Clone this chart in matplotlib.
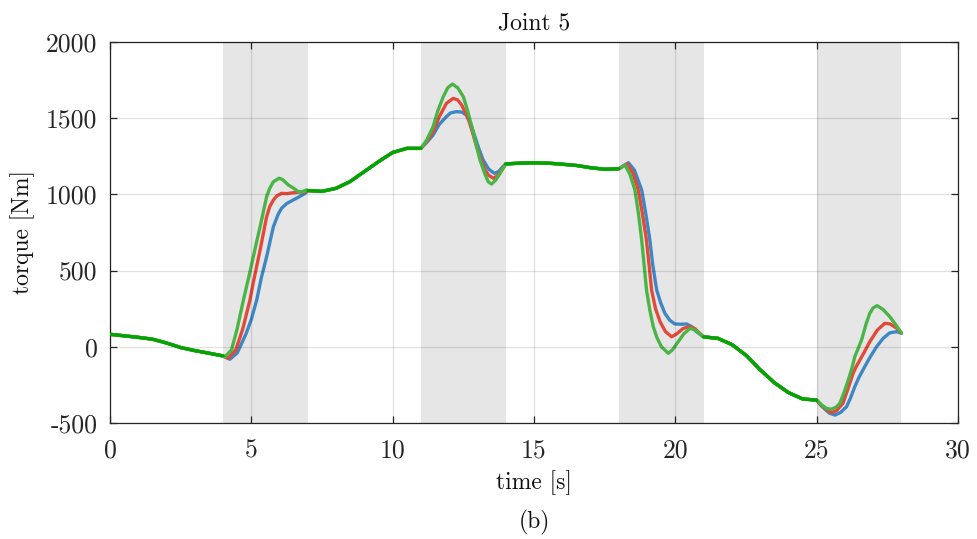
import numpy as np
import matplotlib.pyplot as plt

plt.rcParams['font.family'] = 'cmr10'
plt.rcParams['mathtext.fontset'] = 'cm'
plt.rcParams['axes.unicode_minus'] = False
plt.rcParams['axes.formatter.use_mathtext'] = False

# shaded intervals [s]
shade_spans = [(4, 7), (11, 14), (18, 21), (25, 28)]

# common part of the torque (all three curves coincide here)
common_t = [0, 0.5, 1, 1.5, 2, 2.5, 3, 3.5, 4, np.nan,
            7, 7.5, 8, 8.5, 9, 9.5, 10, 10.5, 11, np.nan,
            14, 14.5, 15, 15.5, 16, 16.5, 17, 17.5, 18, np.nan,
            21, 21.5, 22, 22.5, 23, 23.5, 24, 24.5, 25]
common_v = [82, 72, 62, 50, 25, -5, -25, -42, -60, np.nan,
            1025, 1020, 1040, 1085, 1150, 1215, 1275, 1302, 1302, np.nan,
            1200, 1205, 1207, 1205, 1198, 1190, 1175, 1165, 1168, np.nan,
            65, 56, 15, -55, -150, -235, -300, -342, -350]

# parts inside the shaded intervals, per controller
blue_t = [4.24, 4.5, 4.8, 5.0, 5.19, 5.35, 5.54, 5.78, 5.95, 6.07, 6.25, 6.48, 6.7, 6.9,
          11.2, 11.43, 11.65, 11.9, 12.05, 12.26, 12.45, 12.6, 12.75, 12.91, 13.05,
          13.2, 13.4, 13.6, 13.75, 13.9,
          18.34, 18.55, 18.81, 18.95, 19.1, 19.2, 19.34, 19.48, 19.63, 19.8, 19.98,
          20.2, 20.4, 20.6, 20.75,
          25.15, 25.3, 25.45, 25.65, 25.85, 26.06, 26.2, 26.35, 26.5, 26.7, 26.9,
          27.12, 27.35, 27.59, 27.83, 28.0]
blue_v = [-82, -40, 80, 180, 307, 450, 591, 788, 870, 909, 940, 963, 985, 1007,
          1340, 1389, 1460, 1510, 1535, 1543, 1540, 1521, 1470, 1379, 1300,
          1226, 1165, 1138, 1150, 1182,
          1208, 1160, 1029, 880, 701, 540, 373, 290, 220, 175, 150,
          148, 150, 130, 99,
          -385, -410, -435, -448, -430, -393, -335, -262, -200, -131, -65,
          0, 55, 92, 99, 90]

red_t = [4.18, 4.45, 4.7, 4.95, 5.1, 5.31, 5.54, 5.65, 5.78, 5.9, 6.07, 6.25, 6.48, 6.9,
         11.2, 11.43, 11.65, 11.9, 12.14, 12.3, 12.44, 12.67, 12.82, 12.97, 13.12,
         13.27, 13.4, 13.56, 13.7, 13.85,
         18.3, 18.5, 18.69, 18.83, 18.98, 19.07, 19.16, 19.3, 19.46, 19.65, 19.87,
         20.05, 20.28, 20.52, 20.7, 20.8,
         25.15, 25.3, 25.52, 25.7, 25.93, 26.1, 26.29, 26.4, 26.53, 26.7, 26.88,
         27.15, 27.41, 27.6, 27.85, 28.0]
red_v = [-75, -20, 120, 307, 450, 635, 853, 920, 963, 990, 1007, 1005, 1011, 1018,
         1345, 1411, 1510, 1597, 1630, 1620, 1587, 1500, 1410, 1313, 1230,
         1160, 1125, 1106, 1120, 1160,
         1200, 1140, 1029, 880, 701, 540, 373, 250, 165, 100, 66,
         85, 121, 132, 118, 100,
         -380, -405, -432, -420, -371, -280, -174, -130, -87, -30, 33,
         110, 154, 150, 120, 90]

green_t = [4.07, 4.3, 4.5, 4.72, 4.9, 5.07, 5.2, 5.31, 5.54, 5.65, 5.78, 5.98, 6.1,
           6.31, 6.5, 6.66, 6.8, 6.95,
           11.2, 11.43, 11.6, 11.79, 11.95, 12.11, 12.3, 12.5, 12.65, 12.8, 12.95,
           13.09, 13.25, 13.38, 13.5, 13.65, 13.8, 13.92,
           18.22, 18.4, 18.57, 18.7, 18.81, 18.9, 18.98, 19.1, 19.22, 19.35, 19.51,
           19.75, 19.9, 20.1, 20.3, 20.52, 20.7, 20.8,
           25.2, 25.35, 25.52, 25.7, 25.82, 25.97, 26.12, 26.25, 26.35, 26.59, 26.75,
           26.88, 27.0, 27.14, 27.35, 27.59, 27.8, 28.0]
green_v = [-65, -20, 120, 307, 450, 591, 700, 788, 985, 1040, 1083, 1106, 1098,
           1062, 1040, 1018, 1018, 1029,
           1355, 1444, 1550, 1641, 1700, 1724, 1700, 1641, 1550, 1444, 1330,
           1226, 1140, 1083, 1068, 1095, 1138, 1175,
           1193, 1130, 1029, 870, 701, 530, 373, 240, 132, 60, 0,
           -43, -20, 33, 85, 121, 110, 95,
           -385, -404, -410, -395, -371, -300, -218, -140, -65, 45, 150,
           220, 255, 270, 245, 197, 145, 90]


def full_series(t_part, v_part):
    '''merge the common part with one controller's shaded parts'''
    t = np.concatenate([np.array(common_t, float), np.array(t_part, float)])
    v = np.concatenate([np.array(common_v, float), np.array(v_part, float)])
    keep = ~np.isnan(t)
    t, v = t[keep], v[keep]
    order = np.argsort(t, kind='stable')
    return t[order], v[order]


fig = plt.figure(figsize=(9.78, 5.39), dpi=100)
ax = fig.add_axes([0.1125, 0.2152, 0.867, 0.7069])

for a, b in shade_spans:
    ax.axvspan(a, b, color='#e6e6e6', lw=0, zorder=0.2)

for (tp, vp), col in [((blue_t, blue_v), '#3d87c4'),
                      ((red_t, red_v), '#e2493b'),
                      ((green_t, green_v), '#4ab547')]:
    t, v = full_series(tp, vp)
    ax.plot(t, v, color=col, lw=2.4, zorder=2,
            solid_joinstyle='round', solid_capstyle='round')

ax.plot(common_t, common_v, color='#00a600', lw=2.4, zorder=3,
        solid_joinstyle='round', solid_capstyle='round')

ax.set_xlim(0, 30)
ax.set_ylim(-500, 2000)
ax.set_xticks(range(0, 31, 5))
ax.set_yticks(range(-500, 2001, 500))
ax.grid(True, color='k', alpha=0.12, lw=0.9)
ax.set_axisbelow(False)
for line in ax.get_xgridlines() + ax.get_ygridlines():
    line.set_zorder(1)

ax.tick_params(direction='in', top=True, right=True, length=5,
               width=0.9, colors='#262626', labelsize=18.5)
ax.tick_params(axis='x', pad=11)
ax.tick_params(axis='y', pad=9)
for s in ax.spines.values():
    s.set_color('#262626')
    s.set_linewidth(0.9)

ax.set_title('Joint 5', fontsize=17, pad=9, color='#111111')
ax.set_xlabel('time [s]', fontsize=17, labelpad=6, color='#111111')
ax.set_ylabel('torque [Nm]', fontsize=17, labelpad=8, color='#111111')
fig.text(0.546, 0.031, '(b)', ha='center', va='center', fontsize=17, color='#111111')

fig.savefig('out.png', dpi=100)
